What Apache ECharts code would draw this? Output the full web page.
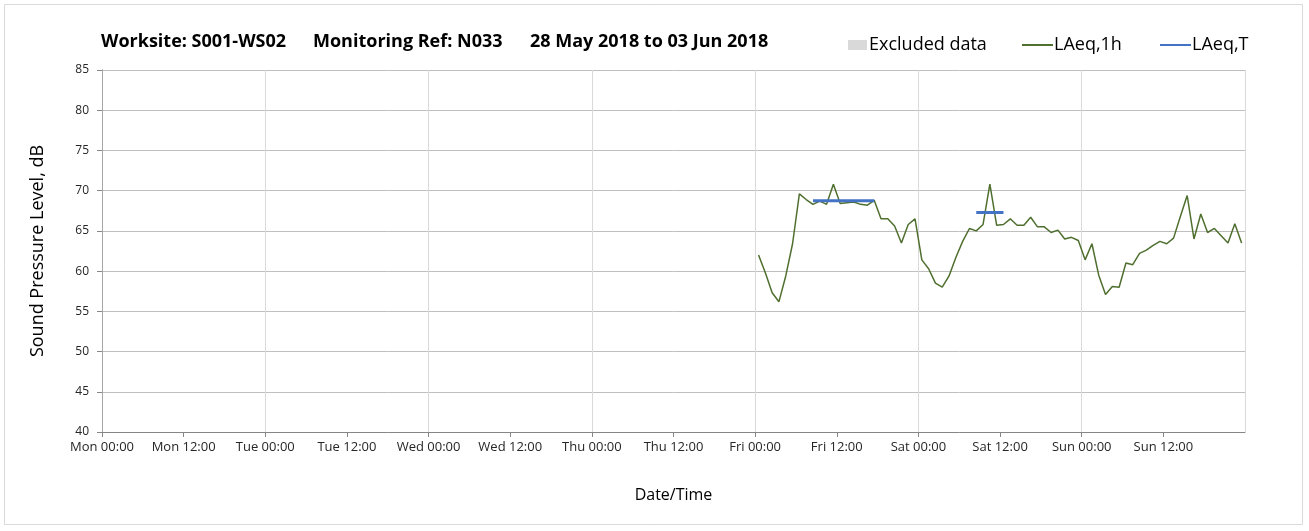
<!DOCTYPE html>
<html>
<head>
<meta charset="utf-8">
<title>Noise monitoring</title>
<script src="https://cdn.jsdelivr.net/npm/echarts@6/dist/echarts.min.js"></script>
<style>
  html, body { margin: 0; padding: 0; background: #fff; }
  #chart { width: 1309px; height: 531px; }
</style>
</head>
<body>
<div id="chart"></div>
<script>
// hours counted from Mon 28 May 2018 00:00
const dayNames = ['Mon', 'Tue', 'Wed', 'Thu', 'Fri', 'Sat', 'Sun'];
const firstHour = 96.5; // Fri 00:00-01:00, plotted at mid hour

// LAeq,1h (dB), one per hour from Fri 00:00 to Sun 23:00
const laeq1h = [
  62.0, 59.8, 57.3, 56.2, 59.4, 63.4, 69.6, 68.9, 68.3, 68.7, 68.3, 70.8,
  68.4, 68.5, 68.6, 68.3, 68.2, 68.8, 66.5, 66.5, 65.6, 63.5, 65.8, 66.5,
  61.4, 60.3, 58.5, 58.0, 59.4, 61.7, 63.7, 65.3, 65.0, 65.8, 70.8, 65.7,
  65.8, 66.5, 65.7, 65.7, 66.7, 65.5, 65.5, 64.8, 65.1, 64.0, 64.2, 63.8,
  61.4, 63.4, 59.5, 57.1, 58.1, 58.0, 61.0, 60.8, 62.2, 62.6, 63.2, 63.7,
  63.4, 64.1, 66.8, 69.4, 64.0, 67.1, 64.8, 65.3, 64.4, 63.5, 65.9, 63.5
];

// LAeq,T periods
const periodStart = [104.5, 128.5];
const periodEnd = [113.5, 132.5];
const periodValue = [68.75, 67.3];

const hourlyData = laeq1h.map(function (v, i) { return [firstHour + i, v]; });
const periodData = [];
periodStart.forEach(function (s, i) {
  periodData.push([s, periodValue[i]]);
  periodData.push([periodEnd[i], periodValue[i]]);
  if (i < periodStart.length - 1) periodData.push([periodEnd[i], '-']);
});

const font = 'Open Sans';
const titleStyle = { fontFamily: font, fontSize: 18, fontWeight: 'bold', color: '#000' };
const legendText = { fontFamily: font, fontSize: 18, color: '#000', padding: [0, 0, 0, -4] };
const chart = echarts.init(document.getElementById('chart'));

const option = {
  animation: false,
  textStyle: { fontFamily: font },
  graphic: [{
    type: 'rect',
    shape: { x: 4.5, y: 4.5, width: 1298, height: 520 },
    style: { fill: 'none', stroke: '#d9d9d9', lineWidth: 1 },
    silent: true
  }],
  title: [
    { text: 'Worksite: S001-WS02', left: 101, top: 33, padding: 0, textStyle: titleStyle },
    { text: 'Monitoring Ref: N033', left: 313, top: 33, padding: 0, textStyle: titleStyle },
    { text: '28 May 2018 to 03 Jun 2018', left: 530, top: 33, padding: 0, textStyle: titleStyle }
  ],
  legend: [
    {
      data: [{ name: 'Excluded data', icon: 'rect' }],
      left: 848, top: 36, padding: 0,
      itemWidth: 19, itemHeight: 10,
      textStyle: { fontFamily: font, fontSize: 18, color: '#000', padding: [0, 0, 0, -3] }
    },
    {
      data: [{ name: 'LAeq,1h', itemStyle: { opacity: 0 } }],
      left: 1021, top: 36, padding: 0,
      itemWidth: 31, itemHeight: 12,
      textStyle: legendText
    },
    {
      data: [{ name: 'LAeq,T', itemStyle: { opacity: 0 } }],
      left: 1159, top: 36, padding: 0,
      itemWidth: 31, itemHeight: 12,
      textStyle: legendText
    }
  ],
  grid: { left: 102, right: 64, top: 70, bottom: 99 },
  xAxis: [
    {
      type: 'value', min: 0, max: 168, interval: 12,
      name: 'Date/Time', nameLocation: 'middle', nameGap: 55,
      nameTextStyle: { fontFamily: font, fontSize: 16, color: '#000' },
      axisLine: { show: true, lineStyle: { color: '#868686', width: 1 } },
      axisTick: { show: true, length: 5, lineStyle: { color: '#868686' } },
      axisLabel: {
        fontFamily: font, fontSize: 13, color: '#262626', margin: 9,
        showMaxLabel: false,
        formatter: function (v) {
          if (v >= 168) return '';
          const d = dayNames[Math.floor(v / 24)];
          return d + ' ' + (v % 24 === 0 ? '00:00' : '12:00');
        }
      },
      splitLine: { show: false }
    },
    {
      type: 'value', min: 0, max: 168, interval: 24, position: 'top',
      axisLine: { show: false }, axisTick: { show: false }, axisLabel: { show: false },
      splitLine: { show: true, lineStyle: { color: '#d9d9d9', width: 1 } }
    }
  ],
  yAxis: [
    {
      type: 'value', min: 40, max: 85, interval: 5,
      name: 'Sound Pressure Level, dB', nameLocation: 'middle', nameGap: 55,
      nameTextStyle: { fontFamily: font, fontSize: 18, color: '#000' },
      axisLine: { show: true, lineStyle: { color: '#868686', width: 1 } },
      axisTick: { show: true, length: 5, lineStyle: { color: '#868686' } },
      axisLabel: { fontFamily: font, fontSize: 12, color: '#262626', margin: 13 },
      splitLine: { show: true, lineStyle: { color: '#bfbfbf', width: 1 } }
    },
    {
      type: 'value', min: 40, max: 85, position: 'right',
      axisLine: { show: true, lineStyle: { color: '#a6a6a6', width: 1 } },
      axisTick: { show: false }, axisLabel: { show: false }, splitLine: { show: false }
    }
  ],
  series: [
    {
      name: 'Excluded data', type: 'bar', data: [],
      itemStyle: { color: '#d9d9d9' }
    },
    {
      name: 'LAeq,1h', type: 'line', data: hourlyData,
      symbol: 'none', showSymbol: false,
      lineStyle: { color: '#4f6f2f', width: 1.5 },
      itemStyle: { color: '#4f6f2f' },
      z: 3
    },
    {
      name: 'LAeq,T', type: 'line', data: periodData,
      symbol: 'none', showSymbol: false, connectNulls: false,
      lineStyle: { color: '#4472c4', width: 3 },
      itemStyle: { color: '#4472c4' },
      z: 4
    }
  ]
};

chart.setOption(option);
</script>
</body>
</html>
